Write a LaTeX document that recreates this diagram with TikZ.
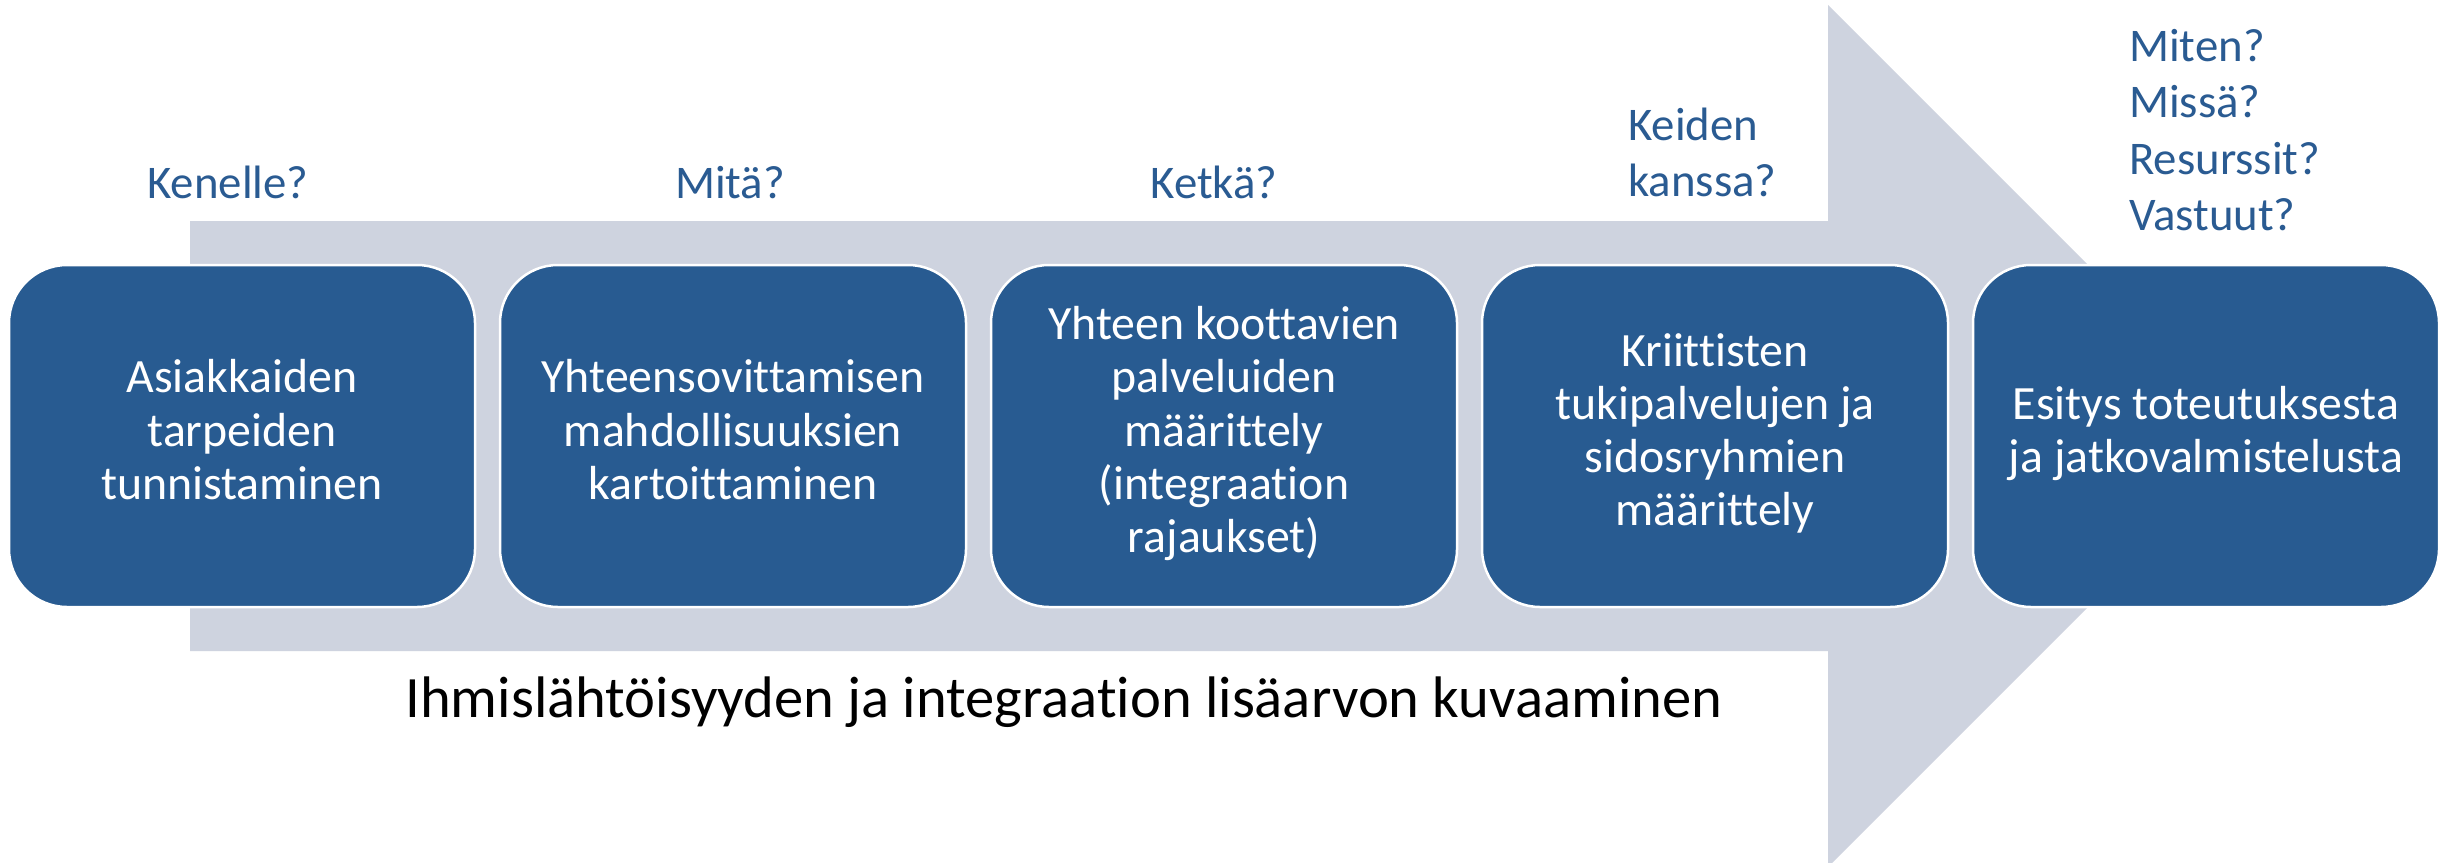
\documentclass[tikz,border=0pt]{standalone}
\usepackage{fontspec}
\setmainfont{Carlito}[Ligatures=CommonOff]
\definecolor{boxblue}{HTML}{285B91}
\definecolor{qblue}{HTML}{2A5B92}
\definecolor{arrowgray}{HTML}{CED3DF}
\newcommand\boxstrut{\rule[-13pt]{0pt}{38pt}}
\newcommand\qstrut{\rule[-12pt]{0pt}{38pt}}
\tikzset{
  stagebox/.style={draw=white, line width=2.5pt, fill=boxblue, rounded corners=58pt,
    minimum width=466pt, minimum height=342pt, inner sep=0pt, align=center,
    text=white, font=\fontsize{47.8}{53.2}\selectfont},
  question/.style={text=qblue, font=\fontsize{46.8}{56.6}\selectfont, inner sep=0pt},
  bottomtext/.style={text=black, font=\fontsize{58.6}{70}\selectfont, inner sep=0pt}
}
\begin{document}
\begin{tikzpicture}[x=1pt,y=-1pt]
\useasboundingbox (0,0) rectangle (2440,862);
\clip (0,0) rectangle (2440,862);
\fill[white] (0,0) rectangle (2440,862);
% big arrow
\fill[arrowgray] (190,221) -- (1828,221) -- (1828,5) -- (2259,436) -- (1828,867) -- (1828,651) -- (190,651) -- cycle;
% stage boxes
\node[stagebox] (b1) at (242,436) {\boxstrut Asiakkaiden\\\boxstrut tarpeiden\\\boxstrut tunnistaminen};
\node[stagebox] (b2) at (733,436) {\boxstrut Yhteensovittamisen\\\boxstrut mahdollisuuksien\\\boxstrut kartoittaminen};
\node[stagebox] (b3) at (1224,436) {\boxstrut Yhteen koottavien\\\boxstrut palveluiden\\\boxstrut määrittely\\\boxstrut (integraation\\\boxstrut rajaukset)};
\node[stagebox] (b4) at (1715,436) {\boxstrut Kriittisten\\\boxstrut tukipalvelujen ja\\\boxstrut sidosryhmien\\\boxstrut määrittely};
\node[stagebox] (b5) at (2206,436) {\boxstrut Esitys toteutuksesta\\\boxstrut ja jatkovalmistelusta};
% questions
\node[question, anchor=base] (q1) at (228,198) {Kenelle?};
\node[question, anchor=base] (q2) at (730,198) {Mitä?};
\node[question, anchor=base] (q3) at (1214,198) {Ketkä?};
\node[question, anchor=south west, align=left] (q4) at (1628,209) {\qstrut Keiden\\\qstrut kanssa?};
\node[question, anchor=south west, align=left] (q5) at (2129,243) {\qstrut Miten?\\\qstrut Missä?\\\qstrut Resurssit?\\\qstrut Vastuut?};
% bottom text
\node[bottomtext, anchor=base] (bt) at (1064,717) {Ihmislähtöisyyden ja integraation lisäarvon kuvaaminen};
\end{tikzpicture}
\end{document}
